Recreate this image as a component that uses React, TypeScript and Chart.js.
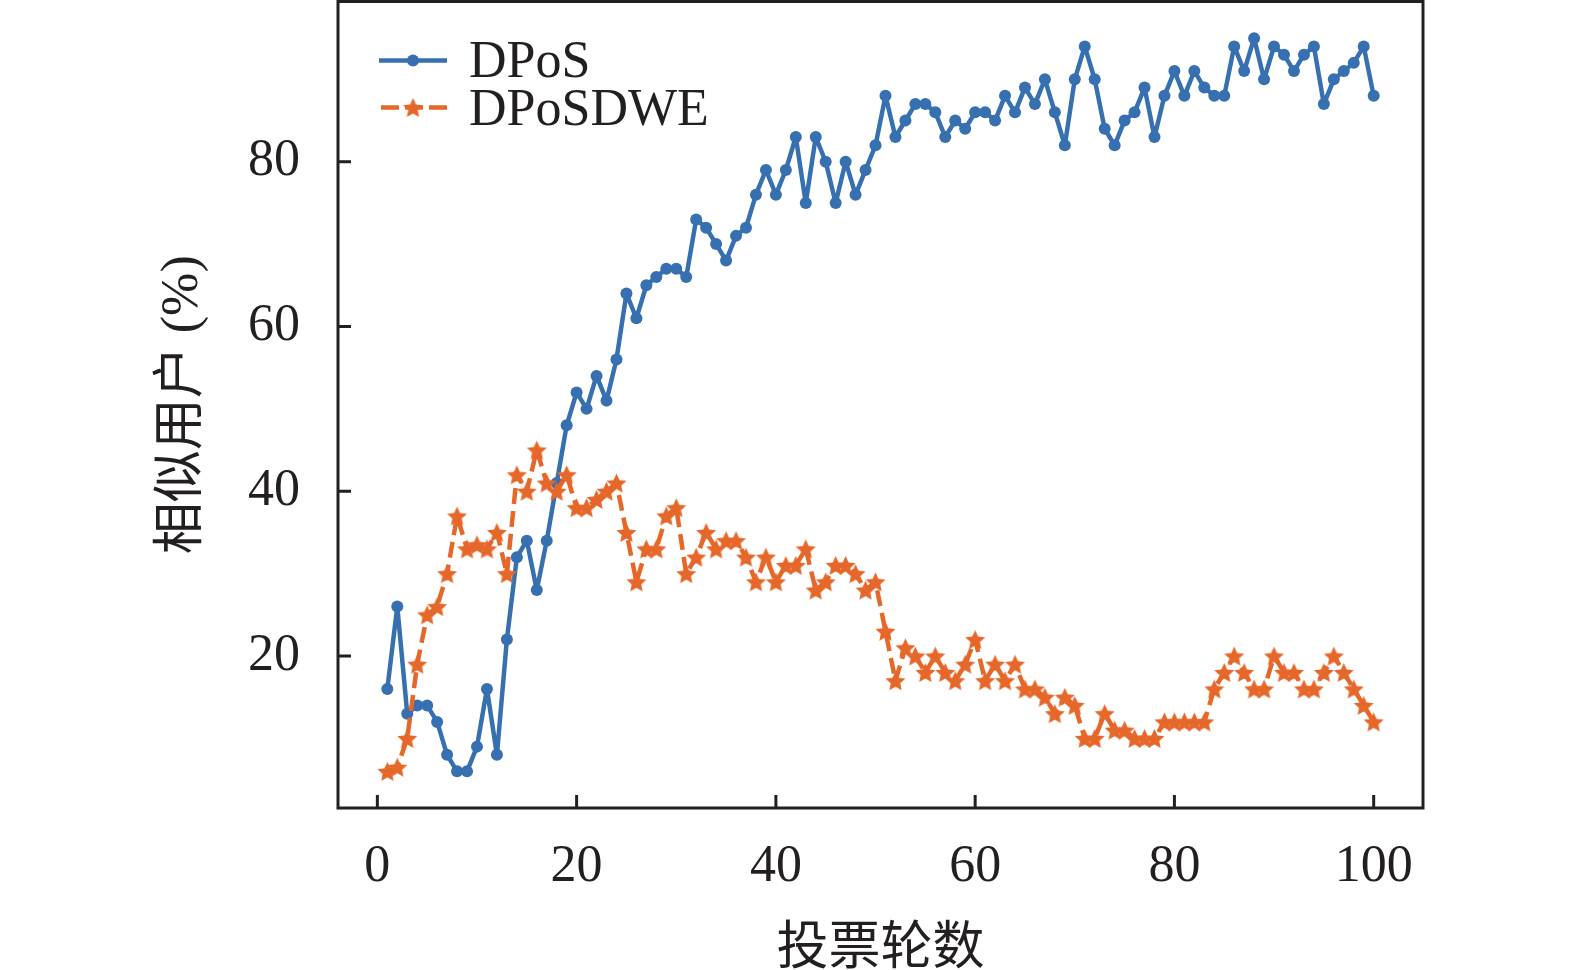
import React, { useEffect, useRef } from "react";
import { Chart, registerables } from "chart.js";

Chart.register(...registerables);

// ---- data ----
const rounds = [
  1, 2, 3, 4, 5, 6, 7, 8, 9, 10,
  11, 12, 13, 14, 15, 16, 17, 18, 19, 20,
  21, 22, 23, 24, 25, 26, 27, 28, 29, 30,
  31, 32, 33, 34, 35, 36, 37, 38, 39, 40,
  41, 42, 43, 44, 45, 46, 47, 48, 49, 50,
  51, 52, 53, 54, 55, 56, 57, 58, 59, 60,
  61, 62, 63, 64, 65, 66, 67, 68, 69, 70,
  71, 72, 73, 74, 75, 76, 77, 78, 79, 80,
  81, 82, 83, 84, 85, 86, 87, 88, 89, 90,
  91, 92, 93, 94, 95, 96, 97, 98, 99, 100,
];

const dposValues = [
  16, 26, 13, 14, 14, 12, 8, 6, 6, 9,
  16, 8, 22, 32, 34, 28, 34, 41, 48, 52,
  50, 54, 51, 56, 64, 61, 65, 66, 67, 67,
  66, 73, 72, 70, 68, 71, 72, 76, 79, 76,
  79, 83, 75, 83, 80, 75, 80, 76, 79, 82,
  88, 83, 85, 87, 87, 86, 83, 85, 84, 86,
  86, 85, 88, 86, 89, 87, 90, 86, 82, 90,
  94, 90, 84, 82, 85, 86, 89, 83, 88, 91,
  88, 91, 89, 88, 88, 94, 91, 95, 90, 94,
  93, 91, 93, 94, 87, 90, 91, 92, 94, 88,
];

const dposdweValues = [
  6, 6.5, 10, 19, 25, 26, 30, 37, 33, 33.5,
  33, 35, 30, 42, 40, 45, 41, 40, 42, 38,
  38, 39, 40, 41, 35, 29, 33, 33, 37, 38,
  30, 32, 35, 33, 34, 34, 32, 29, 32, 29,
  31, 31, 33, 28, 29, 31, 31, 30, 28, 29,
  23, 17, 21, 20, 18, 20, 18, 17, 19, 22,
  17, 19, 17, 19, 16, 16, 15, 13, 15, 14,
  10, 10, 13, 11, 11, 10, 10, 10, 12, 12,
  12, 12, 12, 16, 18, 20, 18, 16, 16, 20,
  18, 18, 16, 16, 18, 20, 18, 16, 14, 12,
];

const seriesNames = ["DPoS", "DPoSDWE"];
const xTickValues = [0, 20, 40, 60, 80, 100];
const yTickValues = [20, 40, 60, 80];
const xTitle = "投票轮数";
const yTitle = "相似用户 (%)";

// ---- styles ----
const BLUE = "#3670b0";
const ORANGE = "#e6672a";
const INK = "#231f20";
const SERIF = '"Liberation Serif", "Noto Sans CJK SC", serif';
const FONT_SIZE = 52;

function makeStar(color: string, outer: number, inner: number) {
  const size = Math.ceil(outer * 2 + 4);
  const c = document.createElement("canvas");
  c.width = size;
  c.height = size;
  const ctx = c.getContext("2d")!;
  ctx.fillStyle = color;
  ctx.beginPath();
  const cx = size / 2;
  const cy = size / 2 + outer * 0.1;
  for (let i = 0; i < 10; i++) {
    const r = i % 2 === 0 ? outer : inner;
    const a = -Math.PI / 2 + (i * Math.PI) / 5;
    const x = cx + r * Math.cos(a);
    const y = cy + r * Math.sin(a);
    if (i === 0) ctx.moveTo(x, y);
    else ctx.lineTo(x, y);
  }
  ctx.closePath();
  ctx.fill();
  return c;
}

export default function App() {
  const ref = useRef<HTMLCanvasElement | null>(null);

  useEffect(() => {
    const canvas = ref.current;
    if (!canvas) return;
    const star = makeStar(ORANGE, 10.5, 5);

    const framePlugin = {
      id: "frameAndLegend",
      afterDraw(chart: any) {
        const { ctx, chartArea: a, scales } = chart;
        ctx.save();
        ctx.strokeStyle = INK;
        ctx.lineWidth = 3;
        ctx.setLineDash([]);
        ctx.strokeRect(a.left, a.top, a.right - a.left, a.bottom - a.top);
        const tl = 13;
        scales.x.ticks.forEach((t: any) => {
          const px = scales.x.getPixelForValue(t.value);
          ctx.beginPath();
          ctx.moveTo(px, a.bottom);
          ctx.lineTo(px, a.bottom - tl);
          ctx.stroke();
        });
        scales.y.ticks.forEach((t: any) => {
          const py = scales.y.getPixelForValue(t.value);
          ctx.beginPath();
          ctx.moveTo(a.left, py);
          ctx.lineTo(a.left + tl, py);
          ctx.stroke();
        });

        // legend
        const lx0 = a.left + 41;
        const lx1 = a.left + 109;
        const mx = (lx0 + lx1) / 2;
        const rows = [a.top + 59, a.top + 106];
        ctx.font = `${FONT_SIZE}px ${SERIF}`;
        ctx.textBaseline = "alphabetic";
        ctx.textAlign = "left";
        // DPoS
        ctx.strokeStyle = BLUE;
        ctx.lineWidth = 4.5;
        ctx.beginPath();
        ctx.moveTo(lx0, rows[0]);
        ctx.lineTo(lx1, rows[0]);
        ctx.stroke();
        ctx.fillStyle = BLUE;
        ctx.beginPath();
        ctx.arc(mx, rows[0], 6, 0, Math.PI * 2);
        ctx.fill();
        // DPoSDWE
        ctx.strokeStyle = ORANGE;
        ctx.lineWidth = 4.5;
        ctx.setLineDash([18, 6]);
        ctx.beginPath();
        ctx.moveTo(lx0 + 2, rows[1]);
        ctx.lineTo(lx1, rows[1]);
        ctx.stroke();
        ctx.setLineDash([]);
        ctx.drawImage(star, mx - star.width / 2, rows[1] - star.height / 2);
        ctx.fillStyle = INK;
        ctx.fillText(seriesNames[0], a.left + 131, rows[0] + 16);
        ctx.fillText(seriesNames[1], a.left + 131, rows[1] + 17);
        ctx.restore();
      },
    };

    const chart = new Chart(canvas, {
      type: "line",
      data: {
        datasets: [
          {
            label: seriesNames[0],
            data: rounds.map((r, i) => ({ x: r, y: dposValues[i] })),
            borderColor: BLUE,
            backgroundColor: BLUE,
            borderWidth: 4.5,
            borderJoinStyle: "round",
            borderCapStyle: "round",
            pointRadius: 6,
            pointStyle: "circle",
            pointBorderWidth: 0,
            pointBackgroundColor: BLUE,
            tension: 0,
            order: 1,
          },
          {
            label: seriesNames[1],
            data: rounds.map((r, i) => ({ x: r, y: dposdweValues[i] })),
            borderColor: ORANGE,
            backgroundColor: ORANGE,
            borderWidth: 4.5,
            borderJoinStyle: "round",
            borderDash: [16, 7],
            pointStyle: star as any,
            pointRadius: 10,
            tension: 0,
            order: 0,
          },
        ],
      },
      options: {
        responsive: false,
        animation: false,
        devicePixelRatio: 1,
        layout: { autoPadding: false, padding: { top: 1.5, right: 152, left: 0, bottom: 0 } },
        plugins: {
          legend: { display: false },
          tooltip: { enabled: false },
        },
        events: [],
        scales: {
          x: {
            type: "linear",
            min: -3.95,
            max: 104.95,
            grid: { display: false, drawTicks: false },
            border: { display: false },
            afterBuildTicks: (scale: any) => {
              scale.ticks = xTickValues.map((v) => ({ value: v }));
            },
            afterFit: (scale: any) => {
              scale.height = 162;
              scale.paddingLeft = 0;
              scale.paddingRight = 0;
            },
            ticks: {
              padding: 28,
              color: INK,
              font: { family: SERIF, size: FONT_SIZE },
              maxRotation: 0,
              autoSkip: false,
            },
            title: {
              display: true,
              text: xTitle,
              color: INK,
              font: { family: SERIF, size: FONT_SIZE },
              padding: { top: 0, bottom: -12 },
            },
          },
          y: {
            type: "linear",
            min: 1.55,
            max: 99.45,
            grid: { display: false, drawTicks: false },
            border: { display: false },
            afterBuildTicks: (scale: any) => {
              scale.ticks = yTickValues.map((v) => ({ value: v }));
            },
            afterFit: (scale: any) => {
              scale.width = 338;
              scale.paddingTop = 0;
              scale.paddingBottom = 0;
            },
            ticks: {
              padding: 38,
              color: INK,
              font: { family: SERIF, size: FONT_SIZE },
              autoSkip: false,
            },
            title: {
              display: true,
              text: yTitle,
              color: INK,
              font: { family: SERIF, size: FONT_SIZE },
              padding: { top: 152, bottom: 0 },
            },
          },
        },
      },
      plugins: [framePlugin],
    });

    return () => {
      chart.destroy();
    };
  }, []);

  return (
    <div
      style={{
        position: "fixed",
        left: 0,
        top: 0,
        width: 1575,
        height: 970,
        background: "#ffffff",
      }}
    >
      <canvas ref={ref} width={1575} height={970} style={{ width: 1575, height: 970 }} />
    </div>
  );
}
